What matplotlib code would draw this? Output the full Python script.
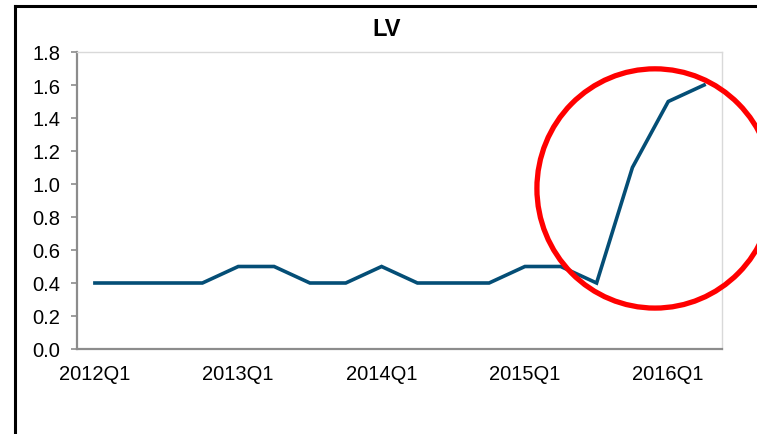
import matplotlib
matplotlib.use("Agg")
from matplotlib import pyplot as plt
from matplotlib.patches import Ellipse
from matplotlib.lines import Line2D

plt.rcParams['font.family'] = ['Liberation Sans', 'DejaVu Sans']

quarters = ['2012Q1', '2012Q2', '2012Q3', '2012Q4',
            '2013Q1', '2013Q2', '2013Q3', '2013Q4',
            '2014Q1', '2014Q2', '2014Q3', '2014Q4',
            '2015Q1', '2015Q2', '2015Q3', '2015Q4',
            '2016Q1', '2016Q2']
lv = [0.4, 0.4, 0.4, 0.4,
      0.5, 0.5, 0.4, 0.4,
      0.5, 0.4, 0.4, 0.4,
      0.5, 0.5, 0.4, 1.1,
      1.5, 1.6]
yticks = [0.0, 0.2, 0.4, 0.6, 0.8, 1.0, 1.2, 1.4, 1.6, 1.8]

fig = plt.figure(figsize=(7.57, 4.35), dpi=100)
ax = fig.add_axes([77 / 757, 85 / 435, 645 / 757, 297 / 435])

x = list(range(len(quarters)))
ax.plot(x, lv, color='#044e76', linewidth=2.6, solid_joinstyle='miter')

ax.set_xlim(-0.5, len(quarters) - 0.5)
ax.set_ylim(0, 1.8)
ax.set_yticks(yticks)
ax.set_yticklabels(['%.1f' % v for v in yticks])
ax.set_xticks(x[::4])
ax.set_xticklabels(quarters[::4])

ax.tick_params(axis='y', length=4, width=1.2, color='#8c8c8c', pad=8, labelsize=14.5)
ax.tick_params(axis='x', length=0, pad=11, labelsize=14.5)

for side in ['left', 'bottom']:
    ax.spines[side].set_color('#8c8c8c')
    ax.spines[side].set_linewidth(1.6)
for side in ['top', 'right']:
    ax.spines[side].set_color('#d9d9d9')
    ax.spines[side].set_linewidth(1.0)

ax.set_title('LV', fontsize=17, fontweight='bold', pad=12, x=0.48)

# red highlight ring around the recent jump
ring = Ellipse((15.63, 0.973), 6.59, 1.45, fill=False, edgecolor='#ff0000',
               linewidth=3.8, clip_on=False, zorder=5)
ax.add_patch(ring)

# black frame partly visible at the left and top
fig.add_artist(Line2D([15 / 757, 15 / 757], [0, 1 - 7 / 435], color='black',
                      linewidth=2.2, transform=fig.transFigure))
fig.add_artist(Line2D([15 / 757, 1], [1 - 7 / 435, 1 - 7 / 435], color='black',
                      linewidth=2.2, transform=fig.transFigure))

fig.savefig('out.png', dpi=100)
